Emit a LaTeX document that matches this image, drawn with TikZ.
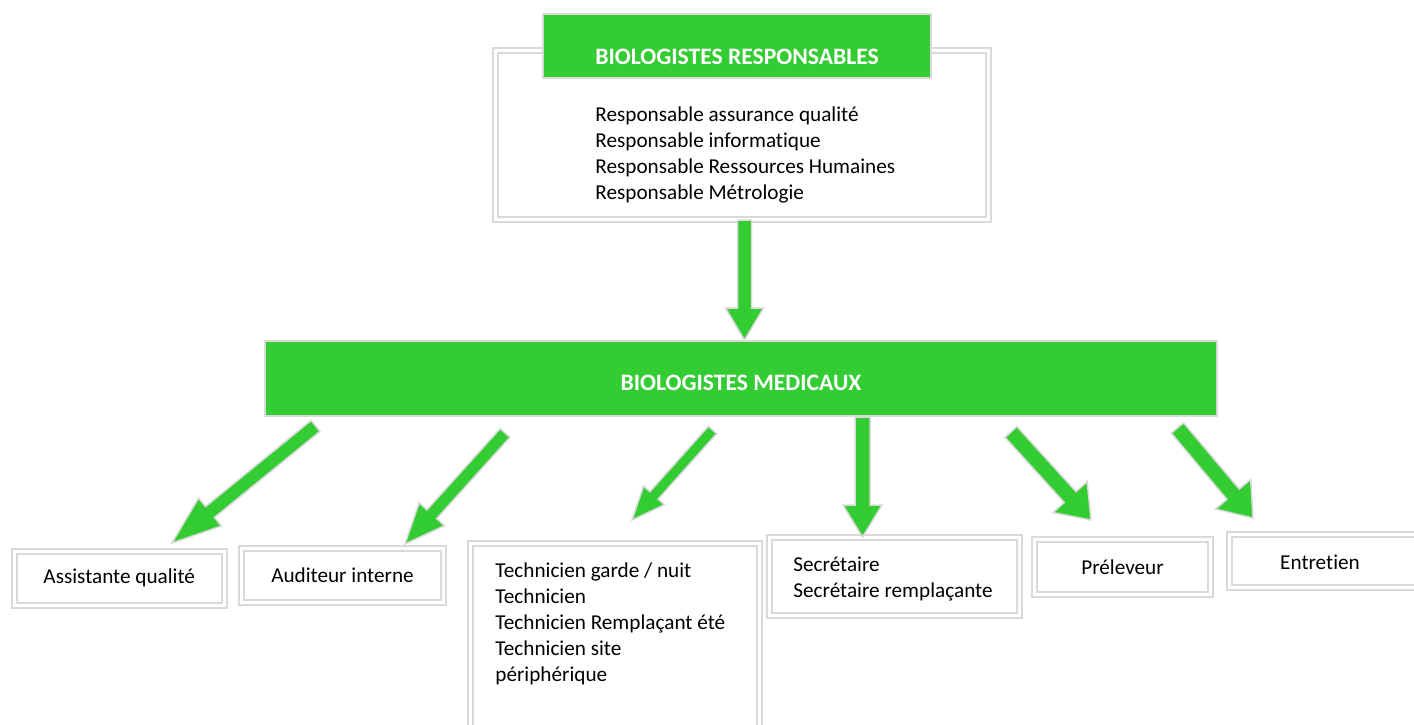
\documentclass[tikz,border=0pt]{standalone}
\usepackage{fontspec}
\setmainfont{Carlito}[Ligatures=NoCommon]
\usetikzlibrary{calc,positioning}
\definecolor{boxgreen}{RGB}{51,204,51}
\definecolor{framegray}{RGB}{217,217,217}
\tikzset{
    boxsize/.style 2 args={minimum width=#1*0.5pt, minimum height=#2*0.5pt},
    headbox/.style={fill=boxgreen, draw=framegray, line width=0.75pt, inner sep=0pt},
    headtext/.style={inner sep=0pt, text=white, font=\bfseries\fontsize{11.8}{14}\selectfont},
    rolebox/.style={draw=framegray, line width=1pt, double=white, double distance=1.5pt,
        inner sep=0pt, font=\fontsize{10.6}{13}\selectfont},
    rolelist/.style={anchor=base west, inner sep=0pt, align=left, font=\fontsize{10.6}{13}\selectfont},
    arrowbody/.style={fill=boxgreen, draw=framegray, line width=0.75pt, line join=miter}
}
% block arrow: tail, tip, half shaft, half head, head length
\newcommand{\bigarrow}[5]{%
    \path coordinate (hb) at ($(#2)!#5!(#1)$);
    \draw[arrowbody] ($(#1)!#3!90:(#2)$) -- ($(hb)!#3!90:(#2)$) -- ($(hb)!#4!90:(#2)$)
        -- (#2) -- ($(hb)!#4!-90:(#2)$) -- ($(hb)!#3!-90:(#2)$) -- ($(#1)!#3!-90:(#2)$) -- cycle;
}
\begin{document}
\begin{tikzpicture}[x=0.5pt,y=-0.5pt]
    \useasboundingbox (0,0) rectangle (1414,724);
    \clip (0,0) rectangle (1414,724);

    % top level
    \node[rolebox, boxsize={493}{169.5}] (resp) at (742,134.75) {};
    \node[headbox, boxsize={388}{64}] (resphead) at (737,46) {};
    \node[headtext] (resptitle) at (737,56.5) {BIOLOGISTES RESPONSABLES};
    % base of a list = its last line
    \node[rolelist] (resplist) at (595,199) {Responsable assurance qualité\\
        Responsable informatique\\ Responsable Ressources Humaines\\ Responsable Métrologie};

    % second level
    \node[headbox, boxsize={952}{75}] (med) at (741,378.5) {};
    \node[headtext] (medtitle) at (741,383) {BIOLOGISTES MEDICAUX};

    % staff
    \node[rolebox, boxsize={210.5}{54}] (assist) at (119.25,578) {Assistante qualité\hspace{6pt}};
    \node[rolebox, boxsize={202}{54}] (audit) at (342.5,575.5) {Auditeur interne\hspace{5pt}};
    \node[rolebox, boxsize={289}{200}] (tech) at (615,643) {};
    \node[rolelist] (techlist) at (495,681) {Technicien garde / nuit\\ Technicien\\
        Technicien Remplaçant été\\ Technicien site\\ périphérique};
    \node[rolebox, boxsize={250}{78}] (secr) at (894.5,576.5) {};
    \node[rolelist] (secrlist) at (793,597) {Secrétaire\\ Secrétaire remplaçante};
    \node[rolebox, boxsize={176}{55}] (prel) at (1122.5,567) {Préleveur};
    \node[rolebox, boxsize={200.5}{53}] (entr) at (1329.75,561) {};
    \node[headtext, text=black, font=\fontsize{10.6}{13}\selectfont] (entrtxt) at (1320,562) {Entretien};

    % arrow ends
    \coordinate (t0) at (744.5,220);   \coordinate (h0) at (744.5,340);
    \coordinate (t1) at (315.5,426);   \coordinate (h1) at (172,543);
    \coordinate (t2) at (505,433);     \coordinate (h2) at (405,544);
    \coordinate (t3) at (712.5,430);   \coordinate (h3) at (632,520);
    \coordinate (t4) at (862.5,417);   \coordinate (h4) at (862.5,537);
    \coordinate (t5) at (1011,432);    \coordinate (h5) at (1091,520);
    \coordinate (t6) at (1177.5,428);  \coordinate (h6) at (1253,518);

    \bigarrow{t0}{h0}{3.5pt}{9.5pt}{16pt}
    \bigarrow{t1}{h1}{3.5pt}{9pt}{24.5pt}
    \bigarrow{t2}{h2}{3.25pt}{8.5pt}{20pt}
    \bigarrow{t3}{h3}{2.75pt}{7pt}{16.5pt}
    \bigarrow{t4}{h4}{3.75pt}{9.75pt}{16pt}
    \bigarrow{t5}{h5}{4pt}{11.5pt}{15.5pt}
    \bigarrow{t6}{h6}{4pt}{11.5pt}{15.5pt}
\end{tikzpicture}
\end{document}
